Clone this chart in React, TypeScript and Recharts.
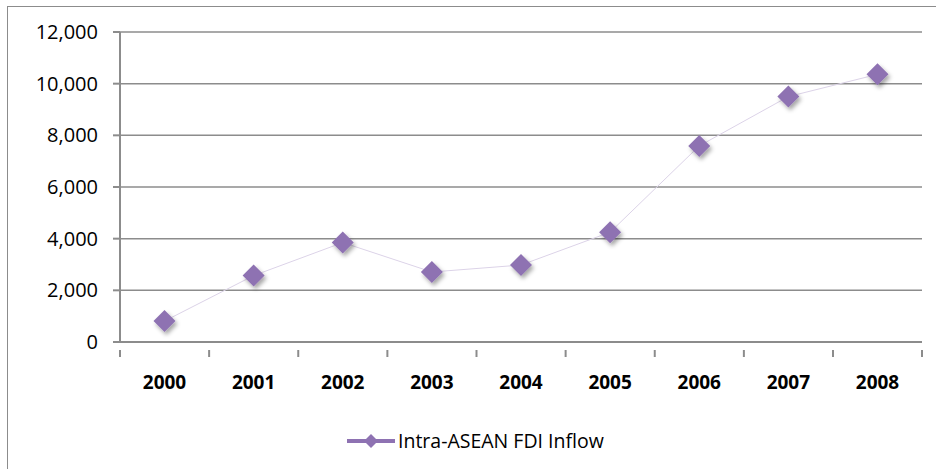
import { CartesianGrid, Line, LineChart, XAxis, YAxis } from "recharts";

const years = ["2000", "2001", "2002", "2003", "2004", "2005", "2006", "2007", "2008"];
const inflow = [810, 2570, 3850, 2710, 2980, 4250, 7590, 9500, 10360];
const yTicks = [0, 2000, 4000, 6000, 8000, 10000, 12000];

const data = years.map((year, i) => ({ year, inflow: inflow[i] }));

const PURPLE = "#8e72b2";
const AXIS = "#8c8c8c";
const FONT = "'Open Sans', 'Liberation Sans', sans-serif";

const Diamond = (props: any) => {
  const { cx, cy } = props;
  if (cx == null || cy == null) return null;
  const r = 11;
  return (
    <path
      d={`M${cx},${cy - r} L${cx + r},${cy} L${cx},${cy + r} L${cx - r},${cy} Z`}
      fill={PURPLE}
      filter="url(#dropShadow)"
    />
  );
};

const YearTick = (props: any) => {
  const { x, y, payload, index } = props;
  const half = 801 / 9 / 2;
  const last = index === years.length - 1;
  return (
    <g>
      <line x1={x - half} y1={y} x2={x - half} y2={y + 7} stroke={AXIS} strokeWidth={2} />
      {last && <line x1={x + half} y1={y} x2={x + half} y2={y + 7} stroke={AXIS} strokeWidth={2} />}
      <text x={x} y={y + 39} textAnchor="middle" fontFamily={FONT} fontSize={19} fontWeight="bold" fill="#000">
        {payload.value}
      </text>
    </g>
  );
};

export default function App() {
  return (
    <div style={{ position: "absolute", left: 0, top: 0, width: 936, height: 469, background: "#fff", overflow: "hidden" }}>
      <div
        style={{
          position: "absolute",
          left: 7,
          top: 6,
          width: 960,
          height: 480,
          border: "1.5px solid #8c8c8c",
        }}
      />
      <div style={{ position: "absolute", left: 0, top: 0 }}>
        <LineChart width={936} height={469} data={data} margin={{ top: 32, right: 14, bottom: 0, left: 10 }}>
          <defs>
            <filter id="dropShadow" x="-50%" y="-50%" width="200%" height="200%">
              <feDropShadow dx="2" dy="3" stdDeviation="2" floodColor="#000" floodOpacity="0.35" />
            </filter>
          </defs>
          <CartesianGrid vertical={false} stroke={AXIS} strokeWidth={1.5} />
          <XAxis
            dataKey="year"
            padding={{ left: 44.5, right: 44.5 }}
            stroke={AXIS}
            strokeWidth={2}
            tickLine={false}
            tick={<YearTick />}
            interval={0}
            height={127}
          />
          <YAxis
            width={110}
            domain={[0, 12000]}
            ticks={yTicks}
            stroke={AXIS}
            strokeWidth={2}
            tickSize={7}
            tickMargin={15}
            tickFormatter={(v: number) => v.toLocaleString("en-US")}
            tick={{ fill: "#000", fontSize: 20, fontFamily: FONT }}
          />
          <Line
            type="linear"
            dataKey="inflow"
            stroke="#dcd3e8"
            strokeWidth={1}
            dot={<Diamond />}
            activeDot={false}
            isAnimationActive={false}
          />
        </LineChart>
      </div>
      <svg style={{ position: "absolute", left: 0, top: 0 }} width={936} height={469}>
        <line x1={347} y1={441} x2={395} y2={441} stroke={PURPLE} strokeWidth={4} />
        <path d="M371,434 L378,441 L371,448 L364,441 Z" fill={PURPLE} />
        <text x={398} y={448} fontFamily={FONT} fontSize={19.5} fill="#000">
          Intra-ASEAN FDI Inflow
        </text>
      </svg>
    </div>
  );
}
